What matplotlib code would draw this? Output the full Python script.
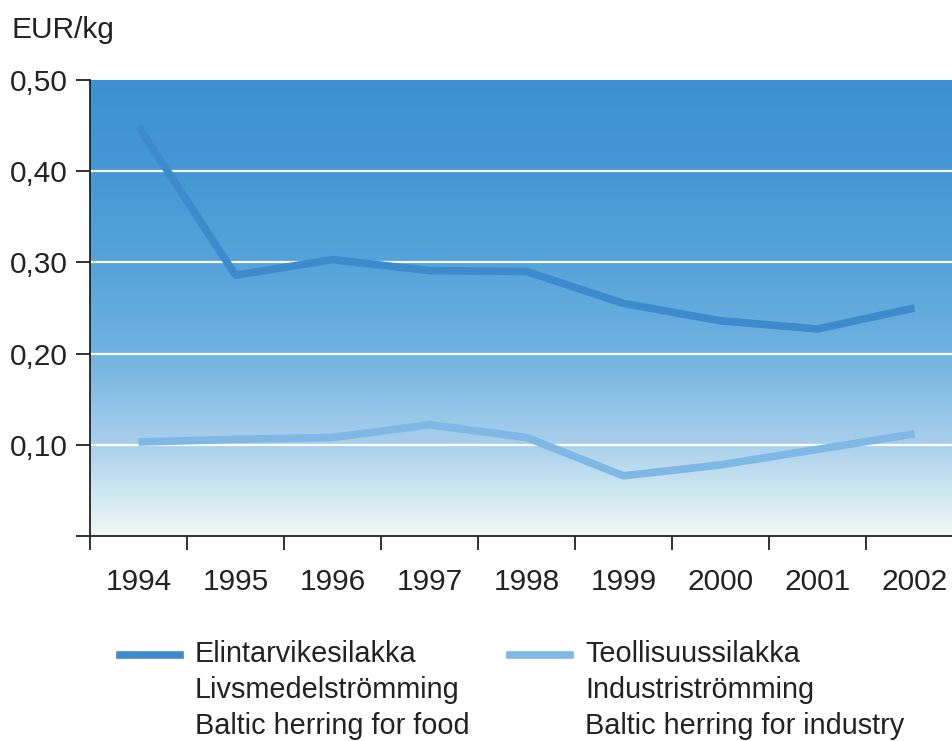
import numpy as np
import matplotlib
matplotlib.use("Agg")
import matplotlib.pyplot as plt
from matplotlib.colors import LinearSegmentedColormap
from matplotlib.lines import Line2D

years = ["1994", "1995", "1996", "1997", "1998", "1999", "2000", "2001", "2002"]
food = [0.449, 0.286, 0.303, 0.291, 0.290, 0.255, 0.236, 0.227, 0.250]
industry = [0.103, 0.106, 0.108, 0.122, 0.108, 0.066, 0.078, 0.095, 0.112]
yticks = [0.1, 0.2, 0.3, 0.4, 0.5]
ytick_labels = ["0,10", "0,20", "0,30", "0,40", "0,50"]
labels_food = "Elintarvikesilakka\nLivsmedelströmming\nBaltic herring for food"
labels_ind = "Teollisuussilakka\nIndustriströmming\nBaltic herring for industry"

plt.rcParams['font.family'] = ['Liberation Sans', 'DejaVu Sans']
fs = 21.5
food_col = "#3d8bcc"
ind_col = "#7fb8e4"

fig = plt.figure(figsize=(9.53, 7.41), dpi=100)
W, H = 953, 741
ax = fig.add_axes([90 / W, (H - 536) / H, (953 - 90) / W, (536 - 80) / H])

xmax = (953 - 90) / 97.0
ax.set_xlim(0, xmax)
ax.set_ylim(0, 0.5)

# gradient background
cmap = LinearSegmentedColormap.from_list("bg", [
    (0.0, "#f0f8f5"), (0.08, "#d4eaf3"), (0.2, "#a9d0ec"), (0.4, "#70b2e0"),
    (0.6, "#55a3da"), (0.8, "#4598d4"), (1.0, "#3d91d0")])
grad = np.linspace(0, 1, 256).reshape(-1, 1)
ax.imshow(grad, extent=[0, xmax, 0, 0.5], origin="lower", aspect="auto",
          cmap=cmap, zorder=0)

for y in yticks[:-1]:
    ax.axhline(y, color="white", lw=1.6, zorder=1)

x = np.arange(len(years)) + 0.5
ax.plot(x, food, color=food_col, lw=5.5, zorder=3, solid_capstyle="butt")
ax.plot(x, industry, color=ind_col, lw=5.5, zorder=3, solid_capstyle="butt")

for s in ["top", "right"]:
    ax.spines[s].set_visible(False)
for s in ["left", "bottom"]:
    ax.spines[s].set_linewidth(1.3)
    ax.spines[s].set_color("#222222")

ax.set_yticks([0] + yticks)
ax.set_yticklabels([""] + ytick_labels, fontsize=fs, color="#222222")
ax.set_xticks(np.arange(len(years)))
ax.set_xticklabels([])
ax.set_xticks(x, minor=True)
ax.set_xticklabels(years, minor=True, fontsize=fs, color="#222222")
ax.tick_params(axis="x", which="major", direction="out", length=10, width=1.3, color="#222222")
ax.tick_params(axis="x", which="minor", length=0, pad=23)
ax.tick_params(axis="y", direction="out", length=10, width=1.3, color="#222222", pad=6)

fig.text(12 / W, 1 - 30 / H, "EUR/kg", fontsize=fs, va="center", ha="left", color="#222222")

# legend
fig.add_artist(Line2D([120 / W, 180 / W], [1 - 655 / H] * 2, color=food_col, lw=5.5))
fig.add_artist(Line2D([510 / W, 570 / W], [1 - 655 / H] * 2, color=ind_col, lw=5.5))
fig.text(195 / W, 1 - 640 / H, labels_food, fontsize=20.8, va="top", ha="left",
         linespacing=1.36, color="#222222")
fig.text(585 / W, 1 - 640 / H, labels_ind, fontsize=20.8, va="top", ha="left",
         linespacing=1.36, color="#222222")

fig.savefig("out.png", dpi=100)
